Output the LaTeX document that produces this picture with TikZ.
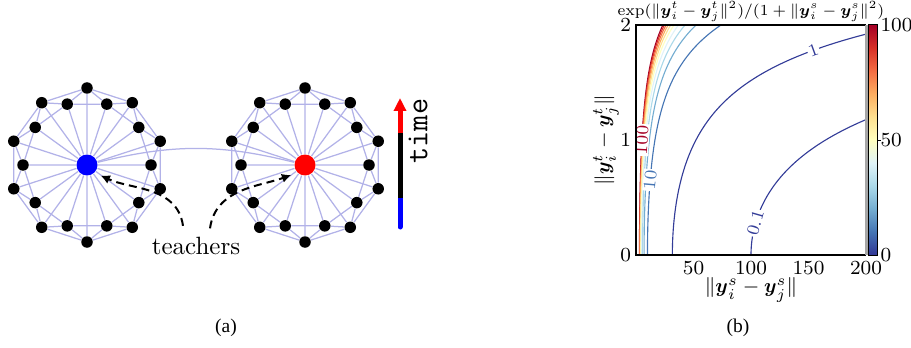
\RequirePackage{fix-cm}
\documentclass[tikz,border=0pt]{standalone}
\usepackage{amsmath, amssymb}
\usepackage{fontspec}
\newfontfamily\capfont{Liberation Serif}
\usepackage{tikz}
\usetikzlibrary{positioning, arrows.meta, backgrounds, calc}

\definecolor{WireColor}{RGB}{178,178,232}
\definecolor{cm1}{RGB}{51,60,152}
\definecolor{cm0}{RGB}{49,54,149}
\definecolor{cm10}{RGB}{69,117,180}
\definecolor{cm20}{RGB}{116,173,209}
\definecolor{cm30}{RGB}{171,217,233}
\definecolor{cm40}{RGB}{224,243,248}
\definecolor{cm50}{RGB}{255,255,191}
\definecolor{cm60}{RGB}{254,224,144}
\definecolor{cm70}{RGB}{253,174,97}
\definecolor{cm80}{RGB}{244,109,67}
\definecolor{cm90}{RGB}{215,48,39}
\definecolor{cm100}{RGB}{165,0,38}

\pgfdeclareverticalshading{rdylbu}{100bp}{color(0bp)=(cm0); color(25bp)=(cm0);
  color(30bp)=(cm10); color(35bp)=(cm20); color(40bp)=(cm30); color(45bp)=(cm40);
  color(50bp)=(cm50); color(55bp)=(cm60); color(60bp)=(cm70); color(65bp)=(cm80);
  color(70bp)=(cm90); color(75bp)=(cm100); color(100bp)=(cm100)}

\newcommand{\plotfont}{\fontsize{8}{9.6}\selectfont}
% level, colour, top of t range
\newcommand{\isoline}[3]{%
  \draw[isoline, #2] plot[variable=\t, domain=0:#3, samples=70, smooth]
    ({636+1.15*sqrt(1000/#1)*sqrt(exp(\t*\t)-#1/1000)}, {92+115*\t});
}

\tikzset{
  hub/.style={circle, inner sep=0pt, minimum size=8.4pt},
  vertex/.style={circle, fill=black, inner sep=0pt, minimum size=4.6pt},
  wire/.style={draw=WireColor, line width=0.5pt},
  teacharrow/.style={-{Latex[length=1.3mm, width=1.3mm]}, line width=0.8pt, dash pattern=on 3.2pt off 2pt, shorten >=2.6pt},
  timebar/.style={line width=2pt},
  isoline/.style={line width=0.45pt},
  clabel/.style={font=\fontsize{7}{8}\selectfont, fill=white, inner sep=0.4pt},
  ticklbl/.style={font=\plotfont, inner sep=1pt}
}

\begin{document}
\begin{tikzpicture}[x=0.4pt, y=0.4pt]
  \useasboundingbox (0,0) rectangle (911,347);

  % (a) two wheels
  \foreach \w/\cx/\hc in {l/87/blue, r/305/red} {
    \node[hub, fill=\hc] (hub\w) at (\cx,182) {};
    \foreach \k in {0,...,19} {
      \pgfmathsetmacro{\rad}{ifthenelse(mod(\k,2)==1,77,64)}
      \node[vertex] (\w\k) at ($(hub\w)+(18*\k:\rad)$) {};
    }
  }
  \begin{scope}[on background layer]
    \foreach \w in {l,r} {
      \foreach \k in {0,...,19} {
        \pgfmathtruncatemacro{\ka}{mod(\k+1,20)}
        \pgfmathtruncatemacro{\kb}{mod(\k+2,20)}
        \draw[wire] (hub\w) -- (\w\k) (\w\k) -- (\w\ka) (\w\k) -- (\w\kb);
      }
    }
    \draw[wire] (hubl) to[bend left=14] (hubr);
  \end{scope}

  \node (teach) at (196,101) {teachers};
  \draw[teacharrow] ([xshift=-5.2pt, yshift=1pt]teach.north) to[out=98, in=-25] (hubl.-45);
  \draw[teacharrow] ([xshift=5.6pt]teach.north) to[out=82, in=-160] (hubr.-135);

  % time bar
  \coordinate (tbot) at (400,120);
  \coordinate (tlow) at (400,149);
  \coordinate (thigh) at (400,214);
  \coordinate (ttop) at (400,249);
  \draw[timebar, blue, line cap=round] (tbot) -- (tlow);
  \draw[timebar, black] (tlow) -- (thigh);
  \draw[timebar, red, -{Triangle[length=5.2pt, width=4.8pt]}] (thigh) -- (ttop);
  \node[rotate=90, font=\ttfamily\fontsize{12.5}{15}\selectfont] (timelbl) at (418,216) {time};

  % (b) contour plot
  \begin{scope}
    \clip (636,92) rectangle (866,322);
    \foreach \lev in {100,90,...,20} {\isoline{\lev}{cm\lev}{2}}
    \node[clabel, text=cm100, rotate=87] (lab100) at (641.9,207) {100};
    \isoline{10}{cm10}{2}
    \node[clabel, text=cm10, rotate=85] (lab10) at (650.2,167) {10};
    \isoline{1}{cm1}{1.96}
    \node[clabel, text=cm1, rotate=20] (lab1) at (813.3,296.7) {1};
    \isoline{0.1}{cm1}{1.2}
    \node[clabel, text=cm1, rotate=74] (lab01) at (755.5,124) {0.1};
  \end{scope}
  \draw[line width=0.5pt] (866,322) -- (636,322) -- (636,92) -- (866,92);
  \draw[gray!70, line width=1.2pt] (866,92) -- (866,322);

  \foreach \v in {50,100,150,200}
    \node[ticklbl, anchor=north] (xt\v) at ({636+1.15*\v},89) {\v};
  \foreach \v in {0,1,2}
    \node[ticklbl, anchor=east] (yt\v) at (634,{92+115*\v}) {\v};
  \node[font=\plotfont] (xlbl) at (751,57) {$\|\boldsymbol{y}^s_i-\boldsymbol{y}^s_j\|$};
  \node[font=\plotfont, rotate=90] (ylbl) at (606,207) {$\|\boldsymbol{y}^t_i-\boldsymbol{y}^t_j\|$};
  \node[font=\fontsize{7}{8}\selectfont, scale=0.88, inner sep=0.5pt] (ttl) at (751,335)
    {$\exp(\|\boldsymbol{y}^t_i-\boldsymbol{y}^t_j\|^2)/(1+\|\boldsymbol{y}^s_i-\boldsymbol{y}^s_j\|^2)$};

  % colour bar
  \shade[shading=rdylbu] (868.5,92) rectangle (877.5,322);
  \draw[line width=0.4pt] (868.5,92) rectangle (877.5,322);
  \draw[line width=0.4pt] (877.5,207) -- ++(3,0);
  \foreach \v/\yy in {0/92, 50/207, 100/322}
    \node[ticklbl, anchor=west] (cb\v) at (877.5,\yy) {\v};

  % captions
  \node[font=\capfont\fontsize{7.8}{9}\selectfont] (capa) at (226,19) {(a)};
  \node[font=\capfont\fontsize{7.8}{9}\selectfont] (capb) at (738,19) {(b)};
\end{tikzpicture}
\end{document}
